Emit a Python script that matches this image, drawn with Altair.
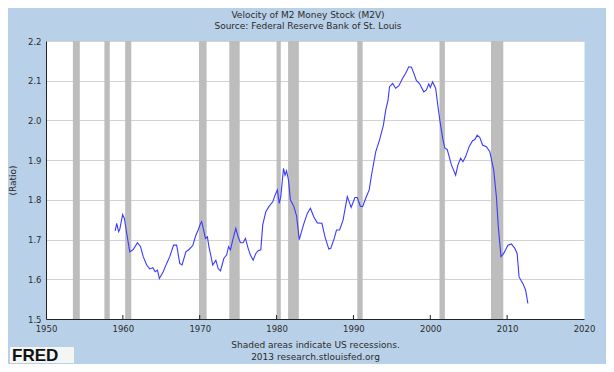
import altair as alt
import pandas as pd

# ---- data ----
years = [1959.0, 1959.2, 1959.45, 1959.6, 1959.97, 1960.2, 1960.5, 1960.9, 1961.35, 1961.9,
         1962.3, 1962.65, 1963.1, 1963.5, 1963.9, 1964.2, 1964.5, 1964.75, 1965.25, 1965.7,
         1966.1, 1966.6, 1967.0, 1967.4, 1967.7, 1968.2, 1968.6, 1969.1, 1969.5, 1969.8,
         1970.1, 1970.25, 1970.5, 1970.75, 1971.0, 1971.2, 1971.7, 1972.1, 1972.4, 1972.7,
         1973.15, 1973.5, 1973.75, 1974.0, 1974.35, 1974.7, 1975.0, 1975.3, 1975.65, 1975.95,
         1976.3, 1976.6, 1976.95, 1977.3, 1977.6, 1977.95, 1978.2, 1978.6, 1979.0, 1979.5,
         1979.8, 1980.1, 1980.35, 1980.55, 1980.9, 1981.1, 1981.3, 1981.55, 1981.8, 1982.25,
         1982.6, 1982.95, 1983.5, 1984.0, 1984.4, 1984.85, 1985.3, 1985.9, 1986.3, 1986.8,
         1987.05, 1987.5, 1987.8, 1988.2, 1988.65, 1989.2, 1989.45, 1989.7, 1990.2, 1990.5,
         1990.9, 1991.2, 1991.6, 1992.05, 1992.35, 1992.9, 1993.4, 1993.9, 1994.2, 1994.5,
         1994.7, 1995.1, 1995.5, 1995.9, 1996.4, 1996.8, 1997.2, 1997.55, 1997.85, 1998.2,
         1998.6, 1999.15, 1999.5, 1999.8, 2000.0, 2000.3, 2000.7, 2001.0, 2001.3, 2001.65,
         2001.9, 2002.2, 2002.75, 2003.3, 2003.6, 2003.95, 2004.25, 2004.6, 2005.05, 2005.5,
         2005.8, 2006.1, 2006.45, 2006.8, 2007.3, 2007.75, 2008.25, 2008.6, 2008.85, 2009.2,
         2009.55, 2010.1, 2010.55, 2011.0, 2011.3, 2011.55, 2012.05, 2012.4, 2012.7]
m2v = [1.722, 1.741, 1.720, 1.726, 1.763, 1.753, 1.716, 1.669, 1.675, 1.692,
       1.682, 1.657, 1.636, 1.626, 1.629, 1.619, 1.623, 1.602, 1.619, 1.640,
       1.657, 1.686, 1.686, 1.640, 1.636, 1.669, 1.675, 1.685, 1.711, 1.724,
       1.740, 1.745, 1.725, 1.703, 1.707, 1.682, 1.636, 1.648, 1.627, 1.621,
       1.653, 1.661, 1.682, 1.674, 1.703, 1.728, 1.707, 1.692, 1.692, 1.703,
       1.678, 1.661, 1.648, 1.665, 1.672, 1.674, 1.737, 1.770, 1.783, 1.795,
       1.812, 1.825, 1.791, 1.808, 1.879, 1.862, 1.873, 1.850, 1.800, 1.783,
       1.760, 1.700, 1.737, 1.766, 1.779, 1.757, 1.742, 1.741, 1.707, 1.676,
       1.678, 1.703, 1.724, 1.724, 1.749, 1.808, 1.795, 1.781, 1.806, 1.806,
       1.784, 1.783, 1.804, 1.825, 1.862, 1.921, 1.951, 1.988, 2.026, 2.051,
       2.085, 2.093, 2.081, 2.087, 2.106, 2.119, 2.135, 2.134, 2.119, 2.100,
       2.093, 2.072, 2.077, 2.092, 2.083, 2.097, 2.081, 2.035, 1.993, 1.951,
       1.930, 1.927, 1.888, 1.862, 1.888, 1.905, 1.896, 1.909, 1.934, 1.949,
       1.952, 1.963, 1.957, 1.938, 1.934, 1.921, 1.875, 1.808, 1.732, 1.657,
       1.665, 1.686, 1.689, 1.678, 1.665, 1.606, 1.589, 1.573, 1.539]

rec_start = [1953.5, 1957.6, 1960.3, 1969.9, 1973.85, 1980.0, 1981.5, 1990.5, 2001.2, 2007.9]
rec_end = [1954.4, 1958.3, 1961.1, 1970.9, 1975.2, 1980.55, 1982.9, 1991.2, 2001.9, 2009.5]

x_ticks = [1950, 1960, 1970, 1980, 1990, 2000, 2010, 2020]
inner_ticks = [1960, 1970, 1980, 1990, 2000, 2010]
y_ticks = [1.5, 1.6, 1.7, 1.8, 1.9, 2.0, 2.1, 2.2]

title_lines = ["Velocity of M2 Money Stock (M2V)", "Source: Federal Reserve Bank of St. Louis"]
note_lines = ["Shaded areas indicate US recessions.", "2013 research.stlouisfed.org"]
y_title = "(Ratio)"
logo_text = ["FRED"]

# ---- tables ----
line_df = pd.DataFrame({"year": years, "m2v": m2v})
rec_df = pd.DataFrame({"start": rec_start, "end": rec_end})
tick_df = pd.DataFrame({"year": inner_ticks, "lo": [1.5] * len(inner_ticks),
                        "hi": [1.51] * len(inner_ticks)})
logo_df = pd.DataFrame({"t": logo_text})

FONT = "DejaVu Sans"
TXT = "#2b2b2b"

xscale = alt.Scale(domain=[1950, 2020], nice=False, zero=False)
yscale = alt.Scale(domain=[1.5, 2.2], nice=False, zero=False)

xaxis = alt.Axis(values=x_ticks, format="d", ticks=False, grid=False, labelPadding=5,
                 labelFontSize=8.5, labelFont=FONT, labelColor=TXT, labelFlush=False,
                 domainColor="#222222", title=note_lines, titleFont=FONT, titleFontSize=9,
                 titleFontWeight="normal", titleColor=TXT, titlePadding=8, titleLineHeight=12)
yaxis = alt.Axis(values=y_ticks, format=".1f", ticks=False, grid=True, gridColor="#d2d2d2",
                 labelPadding=5, labelFontSize=8.5, labelFont=FONT, labelColor=TXT,
                 labelFlush=False, domainColor="#222222", title=y_title, titleFont=FONT,
                 titleFontSize=9, titleFontWeight="normal", titleColor=TXT, titleAngle=270,
                 titleX=-34, titleY=139, titleAlign="center", titleBaseline="middle")

rec = alt.Chart(rec_df).mark_rect(color="#bdbdbd").encode(
    x=alt.X("start:Q", scale=xscale, axis=xaxis),
    x2="end:Q",
)

line = alt.Chart(line_df).mark_line(color="#3a3aff", strokeWidth=1.1).encode(
    x=alt.X("year:Q", scale=xscale, axis=xaxis),
    y=alt.Y("m2v:Q", scale=yscale, axis=yaxis),
)

ticks = alt.Chart(tick_df).mark_rule(color="#222222", strokeWidth=1).encode(
    x=alt.X("year:Q", scale=xscale, axis=xaxis),
    y=alt.Y("lo:Q", scale=yscale, axis=yaxis),
    y2="hi:Q",
)

logo_box = alt.Chart(logo_df).mark_rect(color="#f4f6f4").encode(
    x=alt.value(-36), x2=alt.value(28), y=alt.value(306), y2=alt.value(322)
)
logo = alt.Chart(logo_df).mark_text(font="Liberation Sans", fontSize=17, fontWeight="bold",
                                    color="#111111", align="left", baseline="alphabetic").encode(
    x=alt.value(-34), y=alt.value(320), text="t:N"
)

chart = alt.layer(rec, line, ticks, logo_box, logo).properties(
    width=538, height=278,
    autosize=alt.AutoSizeParams(type="none"),
    padding={"left": 38, "top": 33, "right": 22, "bottom": 45},
    background="#b9d1e8",
    title=alt.TitleParams(text=title_lines, font=FONT, fontSize=9, fontWeight="normal",
                          color=TXT, anchor="middle", offset=6, lineHeight=11.5, dx=-7),
).configure_view(fill="white", stroke="transparent")

chart.save("out.html", embed_options={"renderer": "svg", "actions": False})
